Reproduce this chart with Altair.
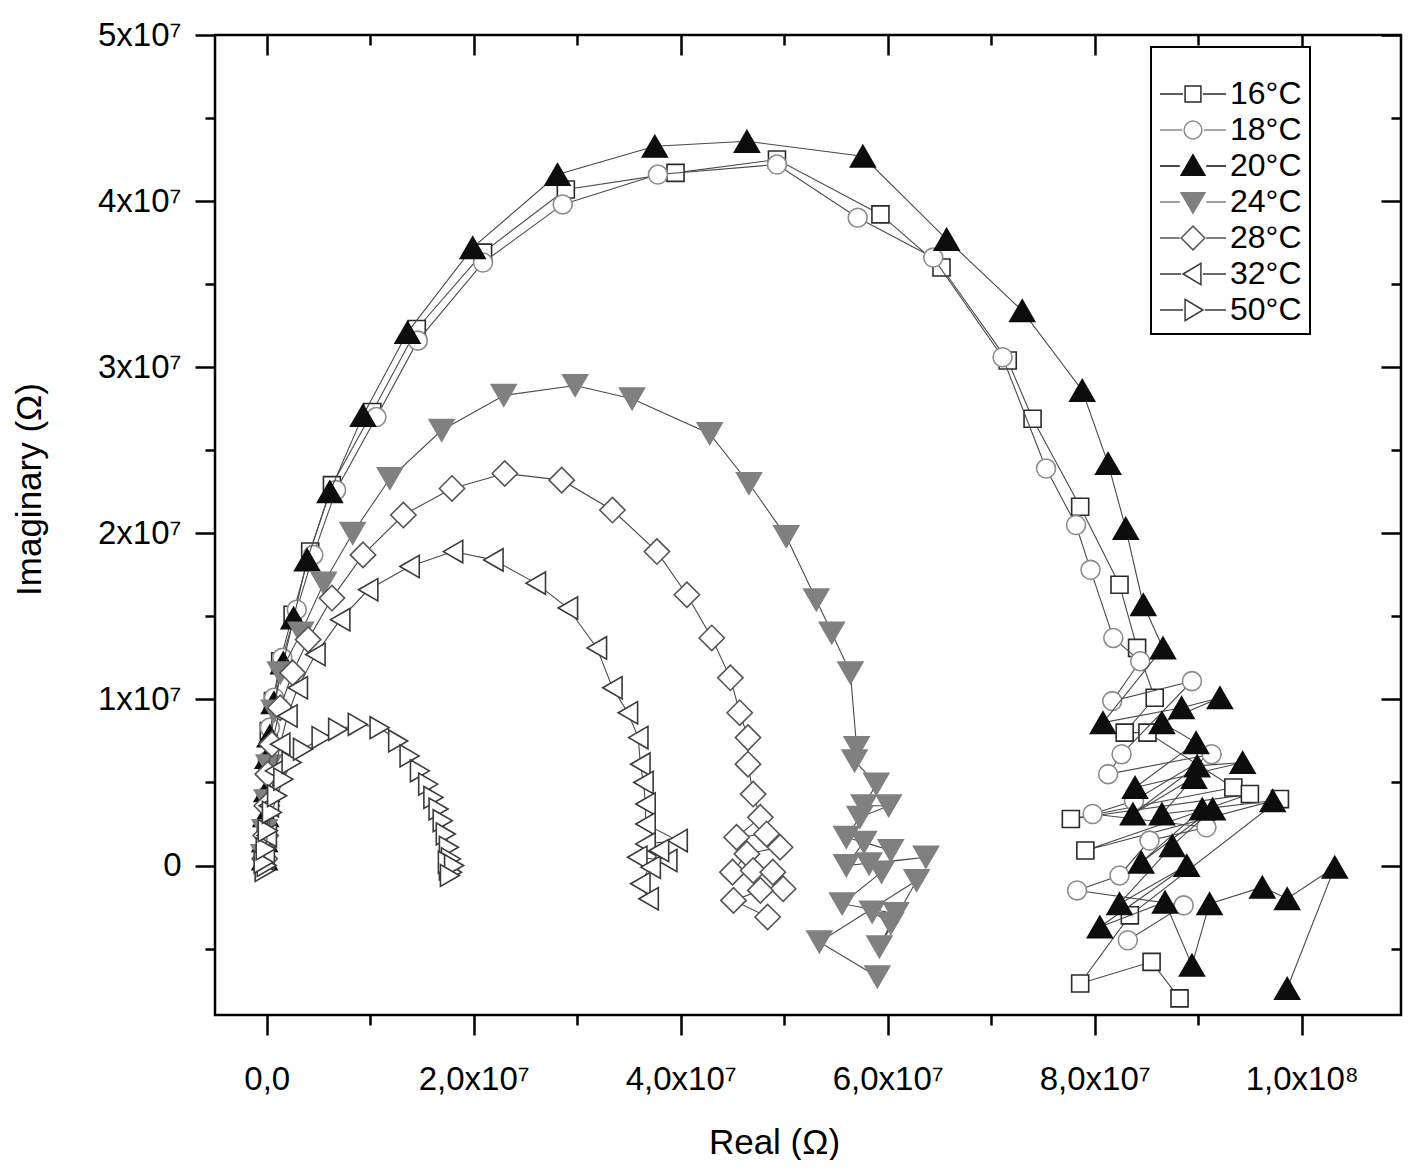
import json
import altair as alt
import pandas as pd

SERIES = ["16°C", "18°C", "20°C", "24°C", "28°C", "32°C", "50°C"]

# Real / imaginary parts in units of 1e6 Ohm, in measurement order
re_16 = [-0.2, -0.1, 0.0, 0.1, 0.2, 0.6, 1.3, 2.5, 4.2, 6.3, 10.2, 14.5, 20.9, 28.9, 39.5, 49.3,
         59.3, 65.2, 71.6, 74.0, 78.6, 82.4, 84.1, 85.8,
         82.9, 85.1, 93.4, 77.7, 95.0, 79.1, 97.9, 83.4, 78.6, 85.5, 88.2]
im_16 = [0.6, 2.1, 3.9, 6.0, 8.1, 9.9, 12.3, 15.1, 18.9, 22.9, 27.3, 32.3, 36.9, 40.7, 41.7, 42.5,
         39.2, 36.0, 30.4, 26.9, 21.6, 16.9, 13.1, 10.1,
         8.0, 8.0, 4.7, 2.8, 4.3, 0.9, 4.0, -3.0, -7.1, -5.8, -8.0]

re_18 = [-0.2, -0.1, 0.0, 0.1, 0.3, 0.7, 1.5, 2.9, 4.5, 6.7, 10.6, 14.6, 20.9, 28.6, 37.8, 49.3,
         57.1, 64.4, 71.1, 75.3, 78.2, 79.6, 81.8,
         84.4, 81.7, 89.4, 82.6, 81.3, 91.3, 83.8, 79.8, 90.8, 85.3, 82.4, 78.3, 88.6, 83.2]
im_18 = [0.6, 2.4, 4.2, 6.3, 8.3, 10.1, 12.5, 15.4, 18.7, 22.6, 27.0, 31.6, 36.3, 39.8, 41.6, 42.2,
         39.0, 36.6, 30.6, 23.9, 20.5, 17.8, 13.7,
         12.3, 9.9, 11.1, 6.7, 5.5, 6.7, 3.9, 3.1, 2.3, 1.5, -0.6, -1.5, -2.4, -4.5]

re_20 = [-0.2, -0.2, -0.1, 0.0, 0.1, 0.3, 0.7, 1.6, 2.6, 3.9, 6.1, 9.3, 13.6, 19.9, 28.1, 37.5,
         46.4, 57.6, 65.7, 73.0, 78.8, 81.3, 83.0, 84.7, 86.6,
         80.8, 88.4, 92.1, 86.5, 89.8, 83.9, 94.3, 89.9, 83.7, 89.6, 86.5, 97.2, 90.4, 84.5, 91.4,
         87.5, 82.4, 88.9, 80.5, 86.8, 89.4, 91.1, 96.2, 98.6, 103.2, 98.6]
im_20 = [0.4, 1.5, 3.0, 4.5, 6.5, 7.8, 9.8, 12.2, 14.9, 18.4, 22.5, 27.1, 32.1, 37.2, 41.6, 43.3,
         43.6, 42.7, 37.7, 33.4, 28.6, 24.2, 20.3, 15.7, 13.1,
         8.6, 9.5, 10.1, 8.6, 7.4, 4.7, 6.2, 6.0, 3.1, 5.3, 3.1, 3.9, 3.4, 0.2, 3.4,
         1.2, -2.3, 0.0, -3.7, -2.2, -6.0, -2.3, -1.3, -2.0, -0.1, -7.4]

re_24 = [-0.3, -0.2, 0.0, 0.2, 0.7, 1.3, 3.3, 5.5, 8.3, 11.9, 16.9, 22.9, 29.8, 35.3, 42.8, 46.6,
         50.2, 53.1, 54.6, 56.4, 57.0, 56.8,
         58.9, 57.7, 60.1, 57.3, 56.0, 60.3, 57.7, 56.0, 63.7, 58.2, 59.4, 55.6, 60.8, 58.5, 60.3,
         59.2, 62.8, 53.4, 59.0]
im_24 = [0.6, 2.1, 3.9, 6.0, 9.3, 11.6, 14.0, 17.0, 20.0, 23.3, 26.2, 28.3, 28.9, 28.1, 26.0, 23.0,
         19.8, 16.0, 14.0, 11.6, 7.1, 6.3,
         4.9, 3.6, 3.6, 2.9, 1.7, 0.9, 1.4, 0.0, 0.5, 0.1, -0.4, -2.3, -2.9, -2.8, -3.5,
         -4.9, -0.9, -4.6, -6.7]

re_28 = [-0.2, -0.1, 0.0, 0.1, 0.5, 1.3, 2.5, 4.0, 6.3, 9.3, 13.2, 17.9, 23.0, 28.5, 33.4, 37.7,
         40.6, 43.0, 44.8, 45.7, 46.5, 46.5,
         47.0, 47.7, 45.4, 48.3, 49.6, 46.4, 45.0, 47.0, 48.9, 49.9, 47.7, 45.1, 48.4]
im_28 = [0.4, 1.8, 3.6, 5.5, 7.3, 9.5, 11.6, 13.6, 16.1, 18.7, 21.1, 22.7, 23.6, 23.2, 21.4, 18.9,
         16.3, 13.7, 11.3, 9.2, 7.7, 6.1,
         4.3, 2.9, 1.7, 1.9, 1.1, 0.7, -0.4, -0.3, -0.4, -1.4, -1.5, -2.1, -3.1]

re_32 = [-0.2, 0.0, 0.2, 0.8, 1.3, 2.0, 3.0, 4.7, 7.1, 9.8, 13.8, 18.0, 21.9, 26.0, 29.1, 31.9,
         33.4, 34.9, 35.9, 36.1, 36.4, 36.6,
         36.6, 39.7, 36.6, 35.8, 38.7, 37.1, 37.9, 36.1, 36.9]
im_32 = [0.4, 1.8, 3.6, 5.7, 7.3, 9.0, 10.7, 12.7, 14.8, 16.6, 18.0, 18.9, 18.4, 17.0, 15.5, 13.1,
         10.7, 9.2, 7.7, 6.1, 5.0, 3.7,
         2.5, 1.5, 1.3, 0.5, 0.3, -0.1, 0.9, -1.1, -2.0]

re_50 = [-0.2, 0.0, -0.3, -0.1, 0.1, 0.5, 1.0, 1.6, 2.4, 3.5, 5.3, 6.9, 8.8, 10.9, 12.7, 13.8,
         14.8, 15.6, 16.1, 16.6, 17.0, 17.3, 17.6, 17.8, 17.6, 17.9, 17.5, 18.1, 17.7]
im_50 = [-0.3, 0.0, 0.2, 1.0, 2.1, 3.2, 4.2, 5.2, 6.2, 7.0, 7.7, 8.2, 8.5, 8.3, 7.5, 6.6,
         5.7, 4.9, 4.1, 3.4, 2.7, 1.9, 1.1, 0.4, -0.2, -0.4, 0.2, 0.0, -0.6]

RE = [re_16, re_18, re_20, re_24, re_28, re_32, re_50]
IM = [im_16, im_18, im_20, im_24, im_28, im_32, im_50]

# Axis ticks (units of 1e6 Ohm) and their printed labels
X_MAJOR = [0, 20, 40, 60, 80, 100]
X_LABELS = ["0,0", "2,0x10⁷", "4,0x10⁷", "6,0x10⁷", "8,0x10⁷", "1,0x10⁸"]
X_MINOR = [10, 30, 50, 70, 90]
Y_MAJOR = [0, 10, 20, 30, 40, 50]
Y_LABELS = ["0", "1x10⁷", "2x10⁷", "3x10⁷", "4x10⁷", "5x10⁷"]
Y_MINOR = [-5, 5, 15, 25, 35, 45]

# marker styles
SHAPES = ["square", "circle", "triangle-up", "triangle-down", "diamond", "triangle-left", "triangle-right"]
FILLS = ["white", "white", "#0d0d0d", "#808080", "white", "white", "white"]
STROKES = ["#2a2a2a", "#8c8c8c", "#0d0d0d", "#808080", "#555555", "#3a3a3a", "#3a3a3a"]
SIZES = [290, 360, 620, 620, 640, 500, 480]
LINE_COLOR = "#4a4a4a"

# legend symbols: line - marker - line
LEGEND_PATHS = [
    "M-1,0L-0.3,0M0.3,0L1,0M-0.24,-0.24L0.24,-0.24L0.24,0.24L-0.24,0.24Z",
    "M-1,0L-0.33,0M0.33,0L1,0M-0.27,0A0.27,0.27,0,1,0,0.27,0A0.27,0.27,0,1,0,-0.27,0Z",
    "M-1,0L-0.4,0M0.4,0L1,0M0,-0.34L0.36,0.28L-0.36,0.28Z",
    "M-1,0L-0.4,0M0.4,0L1,0M0,0.34L0.36,-0.28L-0.36,-0.28Z",
    "M-1,0L-0.4,0M0.4,0L1,0M-0.36,0L0,-0.36L0.36,0L0,0.36Z",
    "M-1,0L-0.36,0M0.3,0L1,0M-0.3,0L0.24,-0.32L0.24,0.32Z",
    "M-1,0L-0.3,0M0.36,0L1,0M0.3,0L-0.24,-0.32L-0.24,0.32Z",
]

rows = []
for name, re_vals, im_vals in zip(SERIES, RE, IM):
    for i, (a, b) in enumerate(zip(re_vals, im_vals)):
        rows.append({"series": name, "idx": i, "re": a, "im": b})
df = pd.DataFrame(rows)

FONT = "Liberation Sans"
xs = alt.Scale(domain=[-5, 109.6], nice=False, zero=False)
ys = alt.Scale(domain=[-9, 50], nice=False, zero=False)


def label_expr(vals, labels):
    return "%s[indexof(%s, datum.value)]" % (json.dumps(labels, ensure_ascii=False), json.dumps(vals))


def bare_axis(orient, values, size, offset=0):
    kw = dict(orient=orient, values=values, tickSize=size, labels=False, title=None,
              domain=False, grid=False, tickColor="black", tickWidth=2.5)
    if offset:
        kw["offset"] = offset
    return alt.Axis(**kw)


ax_bottom = alt.Axis(orient="bottom", values=X_MAJOR, labelExpr=label_expr(X_MAJOR, X_LABELS),
                     tickSize=20, labelPadding=28, labelFlush=False, labelOverlap=False,
                     title="Real (Ω)", titleX=559, titleY=138, titleBaseline="alphabetic",
                     domain=False, grid=False, tickColor="black", tickWidth=2.5)
ax_left = alt.Axis(orient="left", values=Y_MAJOR, labelExpr=label_expr(Y_MAJOR, Y_LABELS),
                   tickSize=20, labelPadding=14, labelFlush=False, labelOverlap=False,
                   title="Imaginary (Ω)", titleX=-175, titleY=454, titleBaseline="alphabetic",
                   titleAngle=270, domain=False, grid=False, tickColor="black", tickWidth=2.5)

axis_pairs = [
    (ax_bottom, ax_left),
    (bare_axis("bottom", X_MINOR, 10), bare_axis("left", Y_MINOR, 10)),
    (bare_axis("top", X_MAJOR, 20, -20), bare_axis("right", Y_MAJOR, 20, -20)),
    (bare_axis("top", X_MINOR, 10, -10), bare_axis("right", Y_MINOR, 10, -10)),
]

base = alt.Chart(df)
layers = []
for axx, axy in axis_pairs:
    layers.append(
        base.mark_point(opacity=0).encode(
            x=alt.X("re:Q", scale=xs, axis=axx),
            y=alt.Y("im:Q", scale=ys, axis=axy),
        )
    )

for k, name in enumerate(SERIES):
    sub = base.transform_filter(alt.datum.series == name)
    layers.append(
        sub.mark_line(color=LINE_COLOR, strokeWidth=1.1).encode(
            x=alt.X("re:Q", scale=xs, axis=None),
            y=alt.Y("im:Q", scale=ys, axis=None),
            order="idx:Q",
        )
    )
    layers.append(
        sub.mark_point(shape=SHAPES[k], filled=True, fill=FILLS[k], stroke=STROKES[k],
                       strokeWidth=1.6, size=SIZES[k], opacity=1).encode(
            x=alt.X("re:Q", scale=xs, axis=None),
            y=alt.Y("im:Q", scale=ys, axis=None),
        )
    )

legend_df = pd.DataFrame({"series": SERIES})
leg = alt.Legend(title=" ", orient="none", legendX=936, legendY=12)
layers.append(
    alt.Chart(legend_df).transform_filter("false").mark_point(filled=True, opacity=1).encode(
        shape=alt.Shape("series:N", scale=alt.Scale(domain=SERIES, range=LEGEND_PATHS), legend=leg),
        fill=alt.Fill("series:N", scale=alt.Scale(domain=SERIES, range=FILLS), legend=leg),
        stroke=alt.Stroke("series:N", scale=alt.Scale(domain=SERIES, range=STROKES), legend=leg),
    )
)

chart = (
    alt.layer(*layers)
    .resolve_axis(x="independent", y="independent")
    .properties(width=1186, height=980, autosize=alt.AutoSizeParams(type="none"),
                padding={"left": 207, "top": 27, "right": 2, "bottom": 145})
    .configure_view(stroke="black", strokeWidth=2.5)
    .configure_axis(labelFont=FONT, labelFontSize=33, labelColor="black",
                    titleFont=FONT, titleFontSize=35, titleFontWeight="normal", titleColor="black")
    .configure_legend(labelFont=FONT, labelFontSize=32, labelColor="black", labelOffset=3,
                      titleFontSize=12, titlePadding=11, padding=8,
                      symbolSize=4356, symbolStrokeWidth=1.5, symbolOpacity=1,
                      clipHeight=32, rowPadding=4,
                      strokeColor="black", strokeWidth=2, fillColor="white")
)

chart.save("out.html", embed_options={"renderer": "svg", "actions": False})
